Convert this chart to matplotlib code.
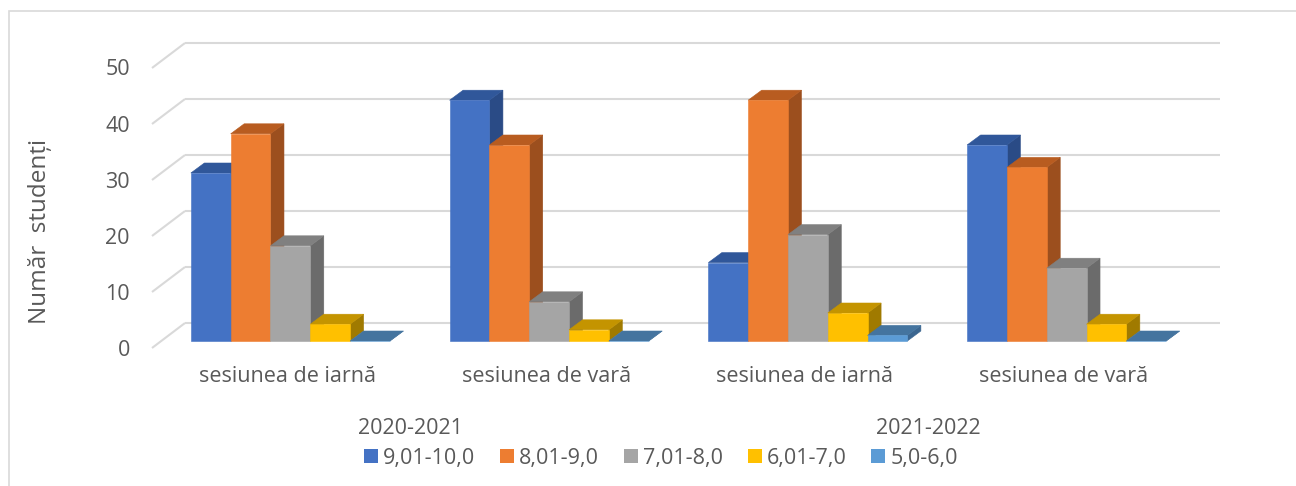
import matplotlib
matplotlib.use("Agg")
import matplotlib.pyplot as plt
from matplotlib.patches import Polygon, Rectangle, Patch

# ---- data -------------------------------------------------------------
categories = ["sesiunea de iarnă", "sesiunea de vară",
              "sesiunea de iarnă", "sesiunea de vară"]
years = ["2020-2021", "2021-2022"]
grade_ranges = ["9,01-10,0", "8,01-9,0", "7,01-8,0", "6,01-7,0", "5,0-6,0"]
counts_9_10 = [30, 43, 14, 35]
counts_8_9 = [37, 35, 43, 31]
counts_7_8 = [17, 7, 19, 13]
counts_6_7 = [3, 2, 5, 3]
counts_5_6 = [0, 0, 1, 0]
y_ticks = [0, 10, 20, 30, 40, 50]

series = [counts_9_10, counts_8_9, counts_7_8, counts_6_7, counts_5_6]

# ---- styling ------------------------------------------------------------
front_colors = ["#4472C4", "#ED7D31", "#A5A5A5", "#FFC000", "#5B9BD5"]
top_colors = ["#30579A", "#B85C20", "#808080", "#C49400", "#44749F"]
side_colors = ["#2A4B86", "#9C4F1E", "#6B6B6B", "#A07A00", "#3B6690"]
TEXT = "#595959"
GRID = "#D9D9D9"
FONT = "Open Sans"
FS = 15.5

W, H = 1296, 486
fig = plt.figure(figsize=(W / 100, H / 100), dpi=100)
ax = fig.add_axes([0, 0, 1, 1])
ax.set_axis_off()

# pixel scale of the front plane of the bars
PX_CAT, PX_VAL = 258.75, 5.6
X0, Y0 = 161, 341          # left edge of first category / value 0 (from top)
ax.set_xlim(-0.5 - X0 / PX_CAT, -0.5 + (W - X0) / PX_CAT)
ax.set_ylim(-(H - Y0) / PX_VAL, Y0 / PX_VAL)


def offset(dx_px, dy_px):
    """Screen offset in pixels -> data units (dy positive = upward)."""
    return dx_px / PX_CAT, dy_px / PX_VAL


bar_dx, bar_dy = offset(13.5, 10)      # depth of each bar
wall_dx, wall_dy = offset(24, 18)      # bar front -> back wall
floor_dx, floor_dy = offset(-9, -7)    # bar front -> front edge of floor

n_cat = len(categories)
x_left, x_right = -0.5, n_cat - 0.5

# gridlines: floor diagonal + back wall
for v in y_ticks:
    ax.plot([x_left + floor_dx, x_left + wall_dx],
            [v + floor_dy, v + wall_dy], color=GRID, lw=1.5, zorder=0.5,
            solid_capstyle="butt")
    ax.plot([x_left + wall_dx, x_right + wall_dx],
            [v + wall_dy, v + wall_dy], color=GRID, lw=1.5, zorder=0.5,
            solid_capstyle="butt")
    ax.text(x_left + floor_dx - 22 / PX_CAT, v + floor_dy - 2 / PX_VAL,
            str(v), ha="right", va="center", fontsize=FS, color=TEXT,
            family=FONT)

# bars (gap width 150%)
n_ser = len(series)
bw = 1.0 / (n_ser + 1.5)
z = 1.0
for i in range(n_cat):
    for k, vals in enumerate(series):
        v = vals[i]
        x0 = i - n_ser * bw / 2 + k * bw
        x1 = x0 + bw
        side = Polygon([(x1, 0), (x1 + bar_dx, bar_dy),
                        (x1 + bar_dx, v + bar_dy), (x1, v)],
                       closed=True, fc=side_colors[k], ec=side_colors[k],
                       lw=0.4, zorder=z)
        top = Polygon([(x0, v), (x1, v), (x1 + bar_dx, v + bar_dy),
                       (x0 + bar_dx, v + bar_dy)],
                      closed=True, fc=top_colors[k], ec=top_colors[k],
                      lw=0.4, zorder=z + 0.01)
        front = Rectangle((x0, 0), bw, v, fc=front_colors[k],
                          ec=front_colors[k], lw=0.4, zorder=z + 0.02)
        for p in (side, top, front):
            ax.add_patch(p)
        z += 0.05

# category labels
for i, name in enumerate(categories):
    ax.text(i - 3 / PX_CAT, (Y0 - 377) / PX_VAL, name, ha="center",
            va="center", fontsize=FS, color=TEXT, family=FONT)

# year labels, centred under each pair of sessions
for j, yr in enumerate(years):
    xc = (2 * j + 2 * j + 1) / 2 + floor_dx
    ax.text(xc, (Y0 - 428) / PX_VAL, yr, ha="center", va="center",
            fontsize=FS, color=TEXT, family=FONT)

# axis title
fig.text(40 / W, 1 - 231 / H, "Număr  studenți", rotation=90,
         ha="center", va="center", fontsize=17.5, color=TEXT, family=FONT)

# legend
handles = [Patch(fc=c, ec="none") for c in front_colors]
leg = fig.legend(handles, grade_ranges, loc="center",
                 bbox_to_anchor=(661 / W, 1 - 458 / H), ncol=5,
                 frameon=False, fontsize=FS, handlelength=0.65,
                 handleheight=0.65, handletextpad=0.23,
                 columnspacing=1.15, borderpad=0, borderaxespad=0)
for t in leg.get_texts():
    t.set_color(TEXT)
    t.set_family(FONT)

# chart area border
fig.add_artist(Rectangle((8.5 / W, -0.05), 1.2, (H - 11) / H + 0.05,
                         transform=fig.transFigure, fill=False,
                         ec=GRID, lw=1.2))

fig.savefig("out.png", dpi=100)
